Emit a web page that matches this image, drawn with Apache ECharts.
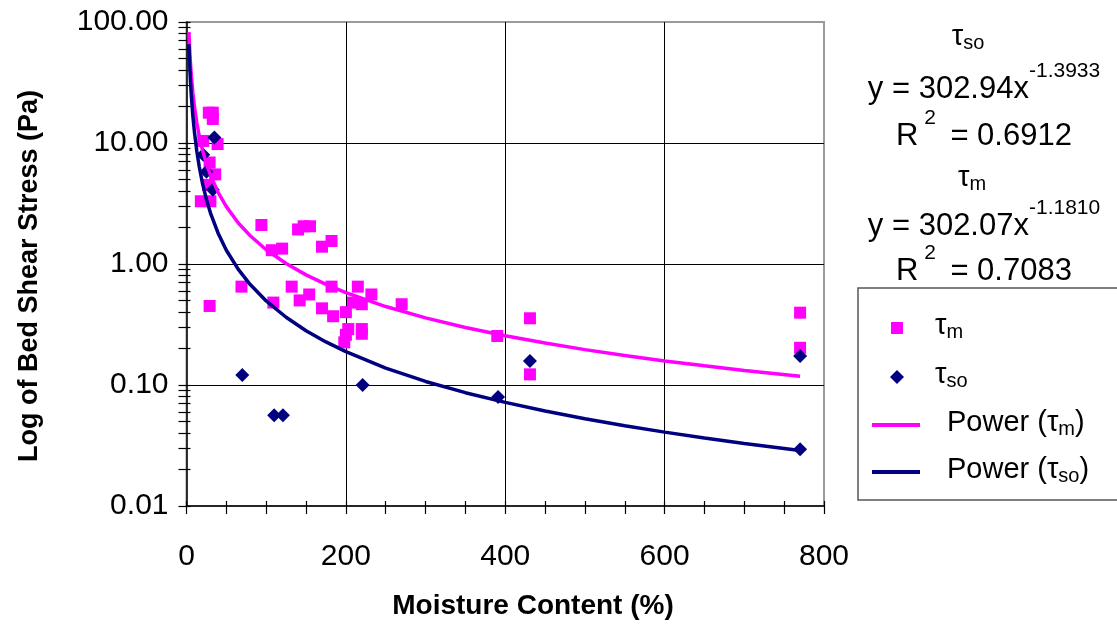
<!DOCTYPE html>
<html><head><meta charset="utf-8">
<script src="https://cdn.jsdelivr.net/npm/echarts@6/dist/echarts.min.js"></script>
<style>html,body{margin:0;padding:0;background:#fff}#c{width:1117px;height:624px}</style>
</head><body><div id="c"></div>
<script>
const FONT = '"Liberation Sans", Arial, Helvetica, sans-serif';

// axis ticks
const xMajorTicks = [0, 200, 400, 600, 800];
const xMinorTicks = [0, 50, 100, 150, 200, 250, 300, 350, 400, 450, 500, 550, 600, 650, 700, 750, 800];
const yMajorTicks = [0.01, 0.1, 1, 10, 100];
const yAllTicks = [0.01, 0.02, 0.03, 0.04, 0.05, 0.06, 0.07, 0.08, 0.09,
  0.1, 0.2, 0.3, 0.4, 0.5, 0.6, 0.7, 0.8, 0.9,
  1, 2, 3, 4, 5, 6, 7, 8, 9,
  10, 20, 30, 40, 50, 60, 70, 80, 90, 100];

// tau_m measurements (moisture content %, bed shear stress Pa)
const tauMX = [28, 33, 33, 21, 39, 29, 36, 27, 18, 30, 29, 94, 140, 147, 155, 107, 120, 170, 182,
  69, 132, 109, 142, 154, 182, 170, 184, 200, 215, 209, 220, 232, 270, 203, 220, 220, 200, 198,
  390, 431, 431, 770, 770];
const tauMY = [17.8, 17.8, 15.8, 10.4, 9.8, 6.9, 5.5, 4.5, 3.3, 3.3, 0.45, 2.1, 1.93, 2.05, 2.05, 1.3, 1.34, 1.39, 1.55,
  0.65, 0.65, 0.48, 0.5, 0.56, 0.65, 0.43, 0.37, 0.4, 0.65, 0.48, 0.465, 0.56, 0.465, 0.29, 0.29, 0.265, 0.26, 0.225,
  0.254, 0.356, 0.1225, 0.396, 0.203];

// tau_so measurements
const tauSoX = [35, 21, 25, 33, 70, 110, 121, 221, 391, 431, 770, 770];
const tauSoY = [11.1, 8.0, 5.8, 4.1, 0.121, 0.0562, 0.0562, 0.1, 0.0796, 0.158, 0.174, 0.0294];

// power trend lines
const trendX = [3, 4, 5, 6, 8, 10, 13, 16, 20, 25, 30, 40, 50, 65, 80, 100, 125, 150, 175, 200,
  250, 300, 350, 400, 450, 500, 550, 600, 650, 700, 770];
const powerMY = [82.5, 58.8, 45.2, 36.4, 25.9, 19.9, 14.6, 11.43, 8.78, 6.75, 5.44, 3.87, 2.98, 2.18, 1.71, 1.31, 1.01, 0.813, 0.678, 0.579,
  0.445, 0.359, 0.299, 0.255, 0.222, 0.196, 0.175, 0.158, 0.144, 0.132, 0.118];
const powerSoY = [65.6, 43.9, 32.2, 24.96, 16.7, 12.25, 8.5, 6.36, 4.66, 3.42, 2.65, 1.775, 1.3, 0.902, 0.676, 0.495, 0.363, 0.281, 0.227, 0.1885,
  0.138, 0.107, 0.0864, 0.0718, 0.0609, 0.0526, 0.0461, 0.0408, 0.0365, 0.0329, 0.0288];

const seriesNames = ['τm', 'τso', 'Power (τm)', 'Power (τso)'];
const legendLabels = {
  'τm': '{t|τ}{s|m}',
  'τso': '{t|τ}{s|so}',
  'Power (τm)': '{t|Power (τ}{s|m}{t|)}',
  'Power (τso)': '{t|Power (τ}{s|so}{t|)}'
};
const eqLines = [
  { text: '{t|τ}{s|so}', x: 968, top: 22, kind: 'tau' },
  { text: '{e|y = 302.94x}{p|-1.3933}', x: 984, top: 61, kind: 'eq' },
  { text: '{e|R}{p| 2 }{e| = 0.6912}', x: 984, top: 108, kind: 'eq' },
  { text: '{t|τ}{s|m}', x: 972, top: 163, kind: 'tau' },
  { text: '{e|y = 302.07x}{p|-1.1810}', x: 984, top: 198, kind: 'eq' },
  { text: '{e|R}{p| 2 }{e| = 0.7083}', x: 984, top: 243, kind: 'eq' }
];

const PINK = '#FF00FF', NAVY = '#000080';

const richTau = {
  t: { fontSize: 29, lineHeight: 34, verticalAlign: 'top', fontFamily: FONT, color: '#000' },
  s: { fontSize: 20, lineHeight: 16, padding: [11, 0, 0, 0], verticalAlign: 'top', fontFamily: FONT, color: '#000' }
};
const richEq = {
  e: { fontSize: 31, padding: [13, 0, 0, 0], verticalAlign: 'top', fontFamily: FONT, color: '#000' },
  p: { fontSize: 21, verticalAlign: 'top', fontFamily: FONT, color: '#000' }
};

const zip = (xs, ys) => xs.map((x, i) => [x, ys[i]]);

function legendFor(name, top, left, icon, w, h, pad) {
  return {
    data: [name], left: left, top: top, orient: 'vertical', icon: icon,
    itemWidth: w, itemHeight: h, padding: 0, selectedMode: false,
    formatter: n => legendLabels[n],
    textStyle: { fontFamily: FONT, fontSize: 29, color: '#000', padding: [0, 0, 0, pad], rich: richTau }
  };
}

const chart = echarts.init(document.getElementById('c'), null, { renderer: 'canvas' });
const option = {
  backgroundColor: '#fff',
  animation: false,
  grid: { left: 186.5, right: 293, top: 22, bottom: 118, show: true, borderColor: '#9a9a9a', borderWidth: 2, backgroundColor: '#fff' },
  xAxis: [
    {
      type: 'value', min: 0, max: 800, interval: 200, position: 'bottom',
      axisLine: { show: true, onZero: false, lineStyle: { color: '#000', width: 1.5 } },
      axisTick: { show: false },
      axisLabel: { fontFamily: FONT, fontSize: 30, color: '#000', margin: 36, customValues: xMajorTicks },
      splitLine: { show: true, showMinLine: false, showMaxLine: false, lineStyle: { color: '#000', width: 1 } }
    },
    {
      type: 'value', min: 0, max: 800, position: 'bottom',
      axisLine: { show: false, onZero: false }, axisLabel: { show: false }, splitLine: { show: false },
      axisTick: { show: true, customValues: xMinorTicks, length: 8, lineStyle: { color: '#000', width: 1.2 } }
    },
    {
      type: 'value', min: 0, max: 800, position: 'bottom',
      axisLine: { show: false, onZero: false }, axisLabel: { show: false }, splitLine: { show: false },
      axisTick: { show: true, inside: true, customValues: xMinorTicks, length: 5, lineStyle: { color: '#000', width: 1.2 } }
    }
  ],
  yAxis: [
    {
      type: 'log', logBase: 10, min: 0.01, max: 100, position: 'left',
      axisLine: { show: true, onZero: false, lineStyle: { color: '#000', width: 1.5 } },
      axisTick: { show: false },
      axisLabel: { fontFamily: FONT, fontSize: 30, color: '#000', margin: 18, formatter: v => Number(v).toFixed(2), customValues: yMajorTicks },
      splitLine: { show: true, showMinLine: false, showMaxLine: false, lineStyle: { color: '#000', width: 1 } }
    },
    {
      type: 'log', logBase: 10, min: 0.01, max: 100, position: 'left',
      axisLine: { show: false, onZero: false }, axisLabel: { show: false }, splitLine: { show: false },
      axisTick: { show: true, customValues: yAllTicks, length: 8, lineStyle: { color: '#000', width: 1.2 } }
    },
    {
      type: 'log', logBase: 10, min: 0.01, max: 100, position: 'left',
      axisLine: { show: false, onZero: false }, axisLabel: { show: false }, splitLine: { show: false },
      axisTick: { show: true, inside: true, customValues: yAllTicks, length: 4, lineStyle: { color: '#000', width: 1.2 } }
    }
  ],
  legend: [
    legendFor(seriesNames[0], 311, 891, 'rect', 12, 12, 27),
    legendFor(seriesNames[1], 360, 890, 'diamond', 14, 14, 26),
    legendFor(seriesNames[2], 408, 872, 'rect', 48, 4, 22),
    legendFor(seriesNames[3], 455, 872, 'rect', 48, 4, 22)
  ],
  graphic: [
    { type: 'rect', shape: { x: 858, y: 288, width: 280, height: 212 }, style: { fill: '#fff', stroke: '#555', lineWidth: 1.5 }, z: -1 },
    { type: 'text', x: 533, y: 606, style: { text: 'Moisture Content (%)', fontFamily: FONT, fontWeight: 'bold', fontSize: 28, fill: '#000', align: 'center', verticalAlign: 'middle' } },
    { type: 'text', x: 30, y: 276, rotation: Math.PI / 2, style: { text: 'Log of Bed Shear Stress (Pa)', fontFamily: FONT, fontWeight: 'bold', fontSize: 27, fill: '#000', align: 'center', verticalAlign: 'middle' } }
  ].concat(eqLines.map(l => ({
    type: 'text', x: l.x, y: l.top,
    style: { text: l.text, rich: l.kind === 'tau' ? richTau : richEq, align: 'center', verticalAlign: 'top', fontFamily: FONT, fill: '#000' }
  }))),
  series: [
    { name: seriesNames[0], type: 'scatter', data: zip(tauMX, tauMY), symbol: 'rect', symbolSize: 12, itemStyle: { color: PINK, opacity: 1 }, z: 3 },
    { name: seriesNames[1], type: 'scatter', data: zip(tauSoX, tauSoY), symbol: 'diamond', symbolSize: 14, itemStyle: { color: NAVY, opacity: 1 }, z: 4 },
    { name: seriesNames[2], type: 'line', data: zip(trendX, powerMY), symbol: 'none', lineStyle: { color: PINK, width: 3.5 }, itemStyle: { color: PINK }, z: 5 },
    { name: seriesNames[3], type: 'line', data: zip(trendX, powerSoY), symbol: 'none', lineStyle: { color: NAVY, width: 3.5 }, itemStyle: { color: NAVY }, z: 6 }
  ]
};
chart.setOption(option);
</script></body></html>
